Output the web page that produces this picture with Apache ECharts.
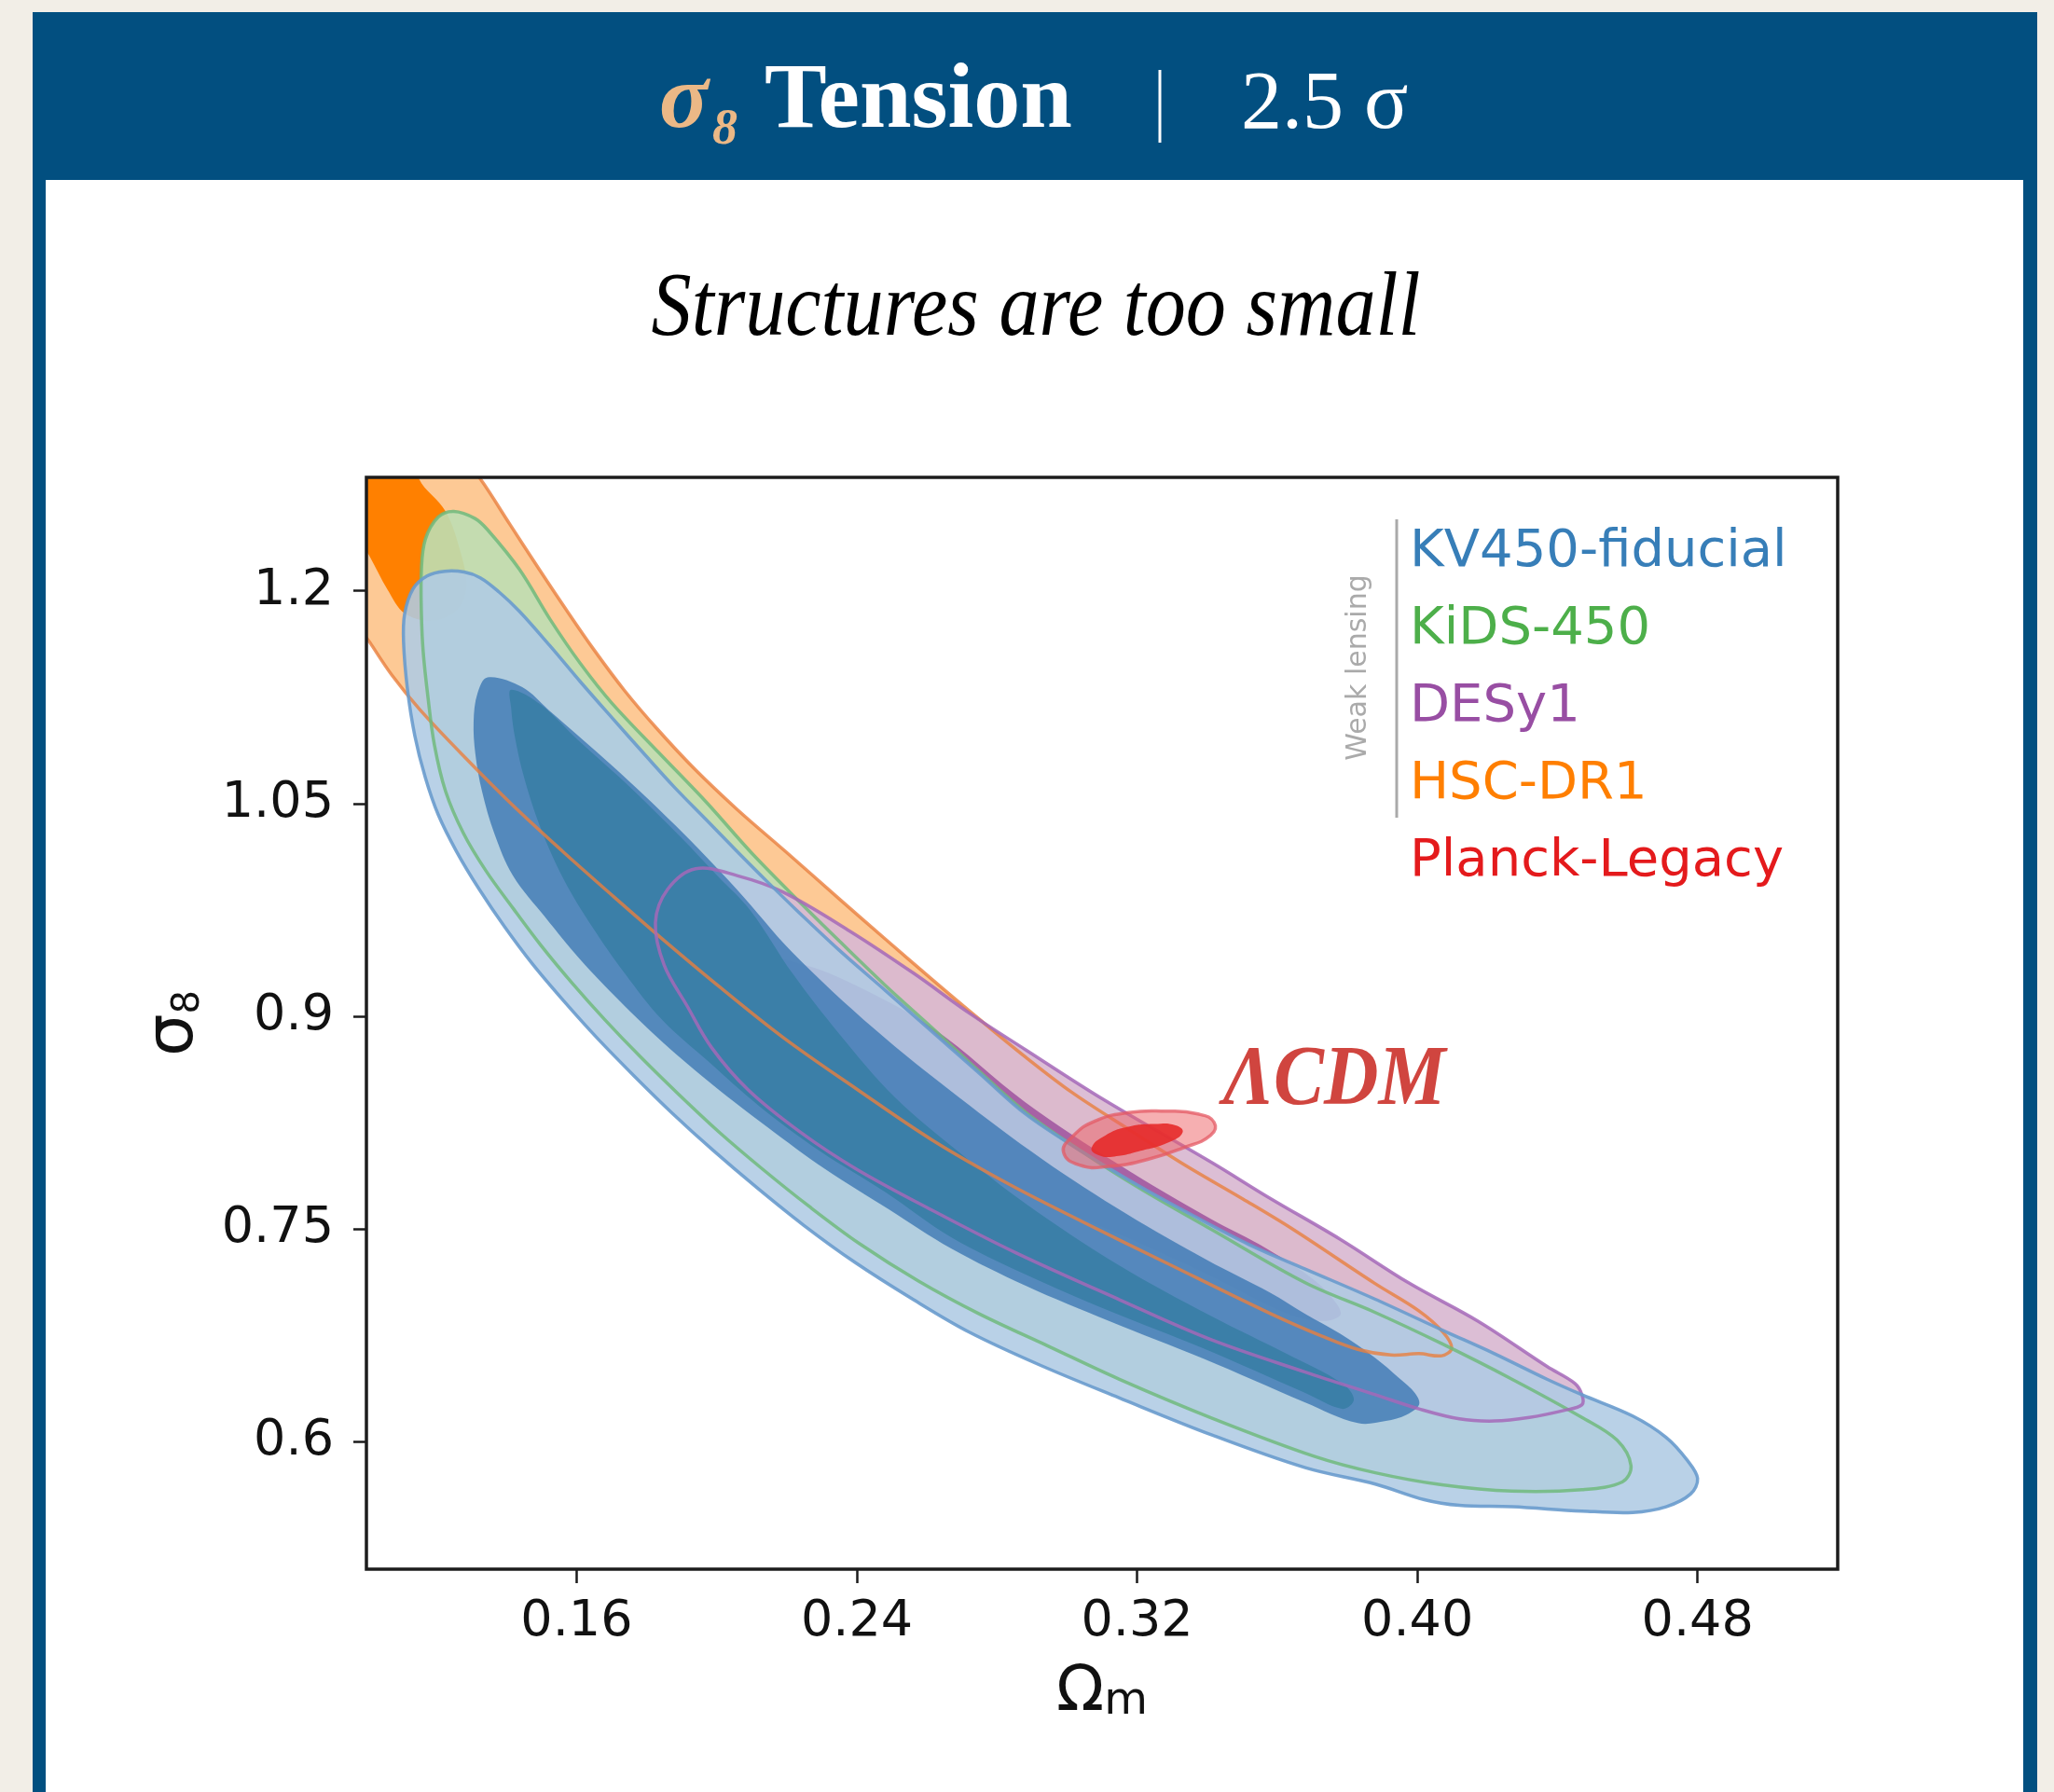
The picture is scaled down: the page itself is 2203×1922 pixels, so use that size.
<!DOCTYPE html>
<html>
<head>
<meta charset="utf-8">
<script src="https://cdn.jsdelivr.net/npm/echarts@6/dist/echarts.min.js"></script>
<style>
  html, body { margin: 0; padding: 0; background: #f2eee7; }
  #chart { width: 2203px; height: 1922px; }
</style>
</head>
<body>
<div id="chart"></div>
<script>
// Axis tick labels
const omegaTicks = [0.16, 0.24, 0.32, 0.40, 0.48];
const sigmaTicks = [0.6, 0.75, 0.9, 1.05, 1.2];

// Legend entries and their colours
const surveys = ['KV450-fiducial', 'KiDS-450', 'DESy1', 'HSC-DR1', 'Planck-Legacy'];
const surveyColors = ['#377eb8', '#4daf4a', '#984ea3', '#ff7f00', '#e41a1c'];

// Credible-region outlines as [Omega_m, sigma_8] vertices (95% and 68%)
const hsc95 = [[0.123,1.309],[0.1325,1.279],[0.1410,1.2467],[0.1490,1.2164],[0.1570,1.1868],[0.1649,1.1586],[0.1737,1.1296],[0.1830,1.1026],[0.1937,1.0743],[0.2057,1.0461],[0.2198,1.0158],[0.2349,0.9829],[0.2483,0.9540],[0.2616,0.9257],[0.2749,0.8980],[0.2882,0.8711],[0.3015,0.8461],[0.3175,0.8204],[0.3334,0.7954],[0.3502,0.7711],[0.3643,0.7500],[0.3877,0.7118],[0.4005,0.6921],[0.4074,0.6770],[0.4098,0.6658],[0.407,0.6605],[0.4005,0.662],[0.3925,0.661],[0.383,0.665],[0.3728,0.6743],[0.3582,0.6901],[0.3286,0.7257],[0.3042,0.7553],[0.2829,0.7822],[0.2616,0.8125],[0.2403,0.8480],[0.2190,0.8849],[0.2003,0.9217],[0.1844,0.9546],[0.1703,0.9849],[0.1559,1.0165],[0.1418,1.0487],[0.1285,1.0816],[0.1152,1.1164],[0.1072,1.1408],[0.1011,1.1632],[0.094,1.190],[0.091,1.289]];
const hsc68 = [[0.0965,1.315],[0.1125,1.309],[0.115,1.279],[0.1226,1.256],[0.127,1.226],[0.1285,1.203],[0.126,1.187],[0.119,1.179],[0.111,1.184],[0.106,1.201],[0.101,1.224],[0.0965,1.243],[0.0925,1.289]];

const kids95 = [[0.1205,1.252],[0.125,1.256],[0.131,1.251],[0.1346,1.243],[0.1437,1.215],[0.1524,1.180],[0.161,1.149],[0.170,1.121],[0.1836,1.0855],[0.197,1.051],[0.210,1.015],[0.2235,0.981],[0.235,0.953],[0.248,0.922],[0.2616,0.8915],[0.2749,0.8612],[0.2882,0.8322],[0.3042,0.8046],[0.3201,0.7796],[0.3414,0.7493],[0.368,0.712],[0.388,0.691],[0.407,0.669],[0.427,0.644],[0.447,0.617],[0.457,0.601],[0.461,0.583],[0.4585,0.5715],[0.447,0.566],[0.427,0.565],[0.407,0.5695],[0.388,0.578],[0.3707,0.5895],[0.3414,0.6165],[0.3148,0.6441],[0.2948,0.6671],[0.2749,0.6901],[0.2576,0.7132],[0.2408,0.7395],[0.2264,0.7658],[0.2131,0.7921],[0.2006,0.8184],[0.1892,0.8447],[0.1783,0.8711],[0.1681,0.8974],[0.1586,0.9237],[0.1498,0.9500],[0.1418,0.9763],[0.1341,1.0026],[0.1277,1.0290],[0.1226,1.0586],[0.1194,1.0914],[0.1176,1.1243],[0.1162,1.1572],[0.1157,1.1836],[0.1157,1.2151],[0.1168,1.2362]];
const kids68 = [[0.1413,1.1303],[0.1498,1.1197],[0.1604,1.0947],[0.1737,1.0651],[0.1897,1.0263],[0.2003,0.9987],[0.2097,0.9743],[0.2216,0.9303],[0.2350,0.8875],[0.2509,0.8428],[0.2696,0.8033],[0.2882,0.7678],[0.3148,0.7244],[0.3414,0.6882],[0.3627,0.6619],[0.3787,0.6408],[0.3819,0.6296],[0.3787,0.6230],[0.3680,0.6342],[0.3388,0.6658],[0.3121,0.6921],[0.2882,0.7178],[0.2669,0.7441],[0.2483,0.7757],[0.2296,0.8046],[0.2123,0.8362],[0.1977,0.8678],[0.1844,0.8974],[0.1737,0.9303],[0.1644,0.9632],[0.1564,0.9961],[0.1498,1.0322],[0.1450,1.0684],[0.1423,1.0980],[0.1413,1.1178]];

const des95 = [[0.194,1.004],[0.206,0.999],[0.219,0.9875],[0.238,0.960],[0.2562,0.9303],[0.2722,0.9020],[0.2882,0.8763],[0.3103,0.8414],[0.3414,0.7967],[0.3574,0.7724],[0.3779,0.7428],[0.3976,0.7118],[0.4173,0.6849],[0.437,0.653],[0.445,0.641],[0.447,0.633],[0.447,0.626],[0.442,0.622],[0.432,0.617],[0.422,0.6145],[0.412,0.616],[0.4005,0.623],[0.388,0.633],[0.368,0.649],[0.341,0.672],[0.315,0.700],[0.2855,0.733],[0.262,0.7625],[0.240,0.792],[0.224,0.818],[0.209,0.848],[0.1985,0.878],[0.1916,0.907],[0.185,0.936],[0.1825,0.966],[0.186,0.9895]];
const des68 = [[0.2115,0.940],[0.224,0.937],[0.2395,0.922],[0.262,0.891],[0.288,0.8395],[0.315,0.795],[0.341,0.757],[0.357,0.736],[0.371,0.713],[0.377,0.697],[0.378,0.689],[0.373,0.685],[0.363,0.690],[0.340,0.718],[0.315,0.746],[0.2855,0.777],[0.266,0.802],[0.239,0.836],[0.224,0.870],[0.215,0.894],[0.2115,0.920]];

const kv95 = [[0.1437,1.1855],[0.1524,1.1612],[0.1612,1.1355],[0.1703,1.1099],[0.1791,1.0855],[0.1878,1.0618],[0.1969,1.0388],[0.2057,1.0165],[0.2145,0.9947],[0.2230,0.9743],[0.2349,0.9467],[0.2483,0.9178],[0.2616,0.8888],[0.2749,0.8599],[0.2882,0.8309],[0.3042,0.8046],[0.3201,0.7809],[0.3361,0.7592],[0.3521,0.7388],[0.3680,0.7217],[0.3877,0.7007],[0.4074,0.6783],[0.422,0.662],[0.437,0.644],[0.447,0.633],[0.4615,0.618],[0.471,0.603],[0.477,0.587],[0.480,0.574],[0.478,0.563],[0.471,0.554],[0.4615,0.550],[0.447,0.551],[0.427,0.554],[0.412,0.555],[0.402,0.559],[0.388,0.570],[0.3680,0.5816],[0.3414,0.6046],[0.3148,0.6309],[0.2922,0.6540],[0.2722,0.6770],[0.2562,0.7000],[0.2395,0.7263],[0.2248,0.7526],[0.2115,0.7790],[0.1990,0.8053],[0.1873,0.8316],[0.1764,0.8579],[0.1660,0.8842],[0.1564,0.9105],[0.1474,0.9368],[0.1394,0.9632],[0.1322,0.9895],[0.1258,1.0158],[0.1205,1.0421],[0.1168,1.0684],[0.1138,1.0980],[0.1117,1.1309],[0.1106,1.1638],[0.1109,1.1836],[0.1133,1.2013],[0.1173,1.2105],[0.1224,1.2138],[0.1279,1.2132],[0.1325,1.2092],[0.1378,1.1993]];
const kv68 = [[0.1346,1.139],[0.1445,1.132],[0.152,1.116],[0.170,1.077],[0.188,1.035],[0.2057,0.9895],[0.2216,0.945],[0.245,0.891],[0.269,0.843],[0.293,0.799],[0.317,0.7605],[0.340,0.728],[0.358,0.705],[0.368,0.690],[0.378,0.676],[0.388,0.659],[0.3947,0.645],[0.3994,0.634],[0.4005,0.626],[0.397,0.619],[0.391,0.6145],[0.383,0.613],[0.3680,0.6276],[0.3388,0.6586],[0.3121,0.6849],[0.2882,0.7099],[0.2669,0.7362],[0.2491,0.7638],[0.2310,0.7921],[0.2145,0.8217],[0.1990,0.8513],[0.1849,0.8809],[0.1724,0.9105],[0.1610,0.9401],[0.1511,0.9697],[0.1418,0.9993],[0.1365,1.0290],[0.1330,1.0586],[0.1311,1.0849],[0.1306,1.1079],[0.1317,1.1276]];

const planck95 = [[0.299,0.804],[0.3015,0.815],[0.308,0.826],[0.3175,0.832],[0.328,0.833],[0.3374,0.831],[0.342,0.825],[0.341,0.816],[0.333,0.807],[0.323,0.799],[0.312,0.794],[0.3036,0.795]];
const planck68 = [[0.307,0.807],[0.311,0.816],[0.3175,0.822],[0.325,0.824],[0.331,0.823],[0.333,0.818],[0.329,0.811],[0.321,0.805],[0.3135,0.801],[0.309,0.802]];

// One closed, smoothed region per series, projected through the cartesian axes
function region(name, pts, style, smooth) {
  return {
    type: 'custom',
    name: name,
    coordinateSystem: 'cartesian2d',
    clip: true,
    silent: true,
    data: pts,
    encode: { x: 0, y: 1 },
    renderItem: function (params, api) {
      if (params.dataIndex !== 0) return;
      return {
        type: 'polygon',
        shape: { points: pts.map(function (p) { return api.coord(p); }), smooth: smooth || 0.35 },
        style: style
      };
    }
  };
}
const fill = c => ({ fill: c, stroke: null });
const line = (c, w) => ({ fill: null, stroke: c, lineWidth: w || 3.5 });

const series = [
  region('HSC-DR1', hsc95, fill('#fdc995')),
  region('HSC-DR1', hsc68, fill('#ff8000')),
  region('KiDS-450', kids95, fill('rgba(190,222,178,0.9)')),
  region('DESy1', des95, fill('rgba(217,184,209,0.92)')),
  region('DESy1', des68, fill('rgba(163,93,162,0.95)')),
  region('KV450-fiducial', kv95, fill('rgba(175,203,228,0.88)')),
  region('KiDS-450', kids68, fill('rgb(40,150,110)')),
  region('KV450-fiducial', kv68, fill('rgba(64,122,180,0.82)')),
  region('HSC-DR1', hsc95, line('rgba(232,128,62,0.8)')),
  region('KiDS-450', kids95, line('rgba(112,186,124,0.85)')),
  region('DESy1', des95, line('rgba(165,105,185,0.85)')),
  region('KV450-fiducial', kv95, line('rgba(105,155,205,0.9)')),
  region('Planck-Legacy', planck95, { fill: 'rgba(238,95,100,0.5)', stroke: 'rgba(228,90,100,0.75)', lineWidth: 3.5 }, 0.5),
  region('Planck-Legacy', planck68, fill('rgba(230,45,45,0.92)'), 0.5)
];

const chart = echarts.init(document.getElementById('chart'), null, { width: 2203, height: 1922 });

chart.setOption({
  animation: false,
  backgroundColor: '#f2eee7',
  grid: {
    left: 393, top: 512, width: 1578, height: 1171,
    show: true, z: 10,
    backgroundColor: 'transparent',
    borderColor: '#1c1c1c', borderWidth: 3.5
  },
  xAxis: {
    type: 'value', min: 0.1, max: 0.52, z: 3,
    axisLine: { show: false },
    splitLine: { show: false },
    axisTick: { show: true, inside: false, length: 15, customValues: omegaTicks, lineStyle: { color: '#1c1c1c', width: 2.5 } },
    axisLabel: {
      customValues: omegaTicks, margin: 30,
      formatter: v => v.toFixed(2),
      fontFamily: 'DejaVu Sans', fontSize: 54, color: '#111'
    },
    name: '{o|Ω}{m|m}',
    nameLocation: 'middle', nameGap: 100,
    nameTextStyle: {
      rich: {
        o: { fontFamily: 'DejaVu Sans', fontSize: 67, lineHeight: 67, color: '#111' },
        m: { fontFamily: 'DejaVu Sans', fontSize: 48, lineHeight: 14, verticalAlign: 'bottom', color: '#111' }
      }
    }
  },
  yAxis: {
    type: 'value', min: 0.51, max: 1.28, z: 3,
    axisLine: { show: false },
    splitLine: { show: false },
    axisTick: { show: true, inside: false, length: 14, customValues: sigmaTicks, lineStyle: { color: '#1c1c1c', width: 2.5 } },
    axisLabel: {
      customValues: sigmaTicks, margin: 35,
      fontFamily: 'DejaVu Sans', fontSize: 54, color: '#111'
    },
    name: '{s|σ}{e|8}',
    nameLocation: 'middle', nameGap: 170,
    nameTextStyle: {
      rich: {
        s: { fontFamily: 'DejaVu Sans', fontSize: 72, lineHeight: 72, color: '#111' },
        e: { fontFamily: 'DejaVu Sans', fontSize: 40, lineHeight: 30, verticalAlign: 'bottom', color: '#111' }
      }
    }
  },
  legend: {
    orient: 'vertical', left: 1502, top: 559, z: 4,
    icon: 'none', itemWidth: 0, itemHeight: 0, itemGap: 27,
    selectedMode: false,
    textStyle: { fontFamily: 'DejaVu Sans', fontSize: 56, lineHeight: 56 },
    data: surveys.map((n, i) => ({ name: n, textStyle: { color: surveyColors[i] } }))
  },
  graphic: [
    // panel: blue frame, white card
    { type: 'rect', z: -1, silent: true, shape: { x: 35, y: 13, width: 2150, height: 1960 }, style: { fill: '#024f80' } },
    { type: 'rect', z: -1, silent: true, shape: { x: 49, y: 193, width: 2121, height: 1800 }, style: { fill: '#ffffff' } },
    // header
    { type: 'text', z: 5, x: 707, y: 111, style: { text: 'σ', fill: '#ebb886', fontFamily: 'Liberation Serif', fontStyle: 'italic', fontWeight: 'bold', fontSize: 98, textVerticalAlign: 'middle' } },
    { type: 'text', z: 5, x: 764, y: 140, style: { text: '8', fill: '#ebb886', fontFamily: 'Liberation Serif', fontStyle: 'italic', fontWeight: 'bold', fontSize: 54, textVerticalAlign: 'middle' } },
    { type: 'text', z: 5, x: 820, y: 110, style: { text: 'Tension', fill: '#ffffff', fontFamily: 'Liberation Serif', fontWeight: 'bold', fontSize: 100, textVerticalAlign: 'middle' } },
    { type: 'line', z: 5, silent: true, shape: { x1: 1244, y1: 75, x2: 1244, y2: 153 }, style: { stroke: '#ffffff', lineWidth: 3 } },
    { type: 'text', z: 5, x: 1331, y: 114, style: { text: '2.5 σ', fill: '#ffffff', fontFamily: 'Liberation Serif', fontSize: 88, textVerticalAlign: 'middle' } },
    // subtitle
    { type: 'text', z: 5, x: 1111, y: 333, scaleX: 0.88, style: { text: 'Structures are too small', fill: '#000000', fontFamily: 'Liberation Serif', fontStyle: 'italic', fontSize: 98, textAlign: 'center', textVerticalAlign: 'middle' } },
    // legend group marker
    { type: 'line', z: 5, silent: true, shape: { x1: 1498, y1: 557, x2: 1498, y2: 877 }, style: { stroke: '#aaaaaa', lineWidth: 3 } },
    { type: 'text', z: 5, x: 1457, y: 716, rotation: Math.PI / 2, style: { text: 'Weak lensing', fill: '#aaaaaa', fontFamily: 'DejaVu Sans', fontSize: 30, textAlign: 'center', textVerticalAlign: 'middle' } },
    // model annotation
    { type: 'text', z: 5, x: 1312, y: 1160, scaleX: 0.89, style: { text: 'ΛCDM', fill: '#d0453f', fontFamily: 'Liberation Serif', fontStyle: 'italic', fontWeight: 'bold', fontSize: 91, textVerticalAlign: 'middle' } }
  ],
  series: series
});
</script>
</body>
</html>
